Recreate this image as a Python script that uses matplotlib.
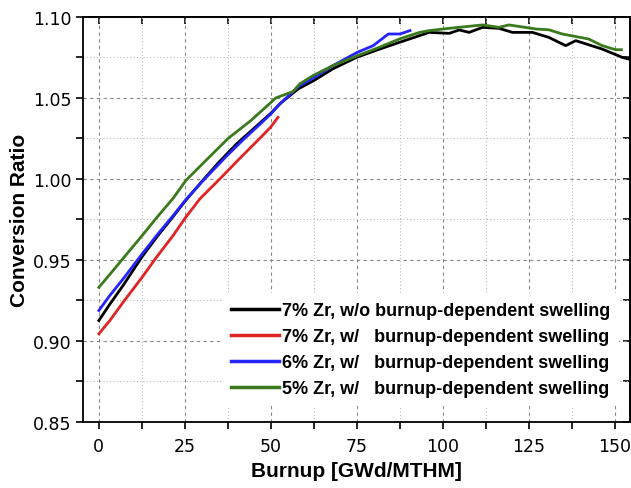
import matplotlib
matplotlib.use("Agg")
import matplotlib.pyplot as plt
from matplotlib.ticker import MultipleLocator

# ---- data ----
x_black = [0, 3, 7, 12.5, 17, 21.5, 25, 30, 35, 40, 45, 50, 53, 58, 62.5, 68, 75, 81.7, 87.5,
           93.3, 96.1, 101.9, 104.8, 107.7, 111.6, 116.4, 120.3, 126.1, 130.9, 135.8, 138.7,
           146.4, 152.2, 155]
y_black = [0.9125, 0.922, 0.934, 0.9517, 0.9645, 0.9764, 0.986, 0.9985, 1.0105, 1.0215, 1.031,
           1.0405, 1.047, 1.0556, 1.0607, 1.0679, 1.0751, 1.0802, 1.0844, 1.0885, 1.0905, 1.0899,
           1.092, 1.0905, 1.0936, 1.093, 1.0905, 1.0905, 1.0874, 1.0823, 1.0854, 1.0802, 1.0751,
           1.0735]

x_red = [0, 3.2, 7.1, 12.6, 16.8, 21.6, 25, 29.4, 35.2, 40, 44.2, 46.8, 50, 52.1]
y_red = [0.9043, 0.9125, 0.9239, 0.9393, 0.9517, 0.965, 0.9755, 0.9877, 1.0, 1.0105, 1.0195,
         1.025, 1.032, 1.038]

x_blue = [0, 3.2, 7.1, 12.6, 16.8, 21.6, 25.5, 30.8, 37.3, 42.4, 47, 50.2, 52.6, 58.4, 62.3,
          68.1, 75.2, 79.8, 84.2, 87.6, 90.5]
y_blue = [0.9187, 0.928, 0.9383, 0.9537, 0.965, 0.9773, 0.9877, 1.0, 1.0144, 1.025, 1.034,
          1.0405, 1.0463, 1.0576, 1.0623, 1.07, 1.0782, 1.0823, 1.0895, 1.0895, 1.0916]

x_green = [0, 3.2, 7.1, 12.6, 16.6, 21.6, 25.3, 30, 37.6, 44.2, 51.5, 56.5, 58.4, 62.3, 68.1,
           75.2, 81.6, 87.4, 93.3, 96.1, 101.9, 111.6, 116.4, 119.3, 127.1, 130.9, 134.8,
           142.5, 146.4, 150.3, 152.0]
y_green = [0.933, 0.941, 0.951, 0.965, 0.9755, 0.988, 0.999, 1.009, 1.025, 1.036, 1.05, 1.054,
           1.0586, 1.0638, 1.07, 1.0761, 1.0813, 1.0864, 1.0905, 1.0916, 1.093, 1.0951, 1.0936,
           1.0951, 1.0926, 1.0921, 1.0895, 1.0864, 1.0823, 1.0798, 1.0798]

labels = ["7% Zr, w/o burnup-dependent swelling",
          "7% Zr, w/   burnup-dependent swelling",
          "6% Zr, w/   burnup-dependent swelling",
          "5% Zr, w/   burnup-dependent swelling"]
colors = ["#000000", "#e02424", "#2424ff", "#3a7a1c"]

x_ticks = [0, 25, 50, 75, 100, 125, 150]
y_ticks = [0.85, 0.90, 0.95, 1.00, 1.05, 1.10]

# ---- figure ----
fig = plt.figure(figsize=(6.31, 4.89), dpi=100)
ax = fig.add_axes([82.7/631, (489-422.7)/489, (630-82.7)/631, (422.7-18)/489])

series = [(x_black, y_black), (x_red, y_red), (x_blue, y_blue), (x_green, y_green)]
for (xs, ys), c, lab in zip(series, colors, labels):
    ax.plot(xs, ys, color=c, lw=2.0, label=lab, zorder=3)

ax.set_xlim(-4.7, 154.5)
ax.set_ylim(0.85, 1.10)
ax.set_xticks(x_ticks)
ax.set_yticks(y_ticks)
ax.xaxis.set_minor_locator(MultipleLocator(12.5))
ax.yaxis.set_minor_locator(MultipleLocator(0.025))
ax.set_yticklabels([f"{v:.2f}" for v in y_ticks])

tickfont = ['Liberation Sans Narrow', 'DejaVu Sans']
for lbl in ax.get_xticklabels() + ax.get_yticklabels():
    lbl.set_fontfamily(tickfont)
    lbl.set_fontsize(12.5)

ax.tick_params(which='both', length=5, width=1.2)
ax.tick_params(axis='x', which='both', direction='out', pad=6)
ax.tick_params(axis='y', which='both', direction='out', pad=3)
# top/right inward ticks
secx = ax.secondary_xaxis('top')
secx.set_xticks(x_ticks)
secx.xaxis.set_minor_locator(MultipleLocator(12.5))
secx.tick_params(which='both', direction='in', length=5, width=1.2, labeltop=False)
secy = ax.secondary_yaxis('right')
secy.set_yticks(y_ticks)
secy.yaxis.set_minor_locator(MultipleLocator(0.025))
secy.tick_params(which='both', direction='in', length=5, width=1.2, labelright=False)
ax.tick_params(top=False, right=False, which='both')
for s in ax.spines.values():
    s.set_linewidth(1.3)
for a in (secx, secy):
    for s in a.spines.values():
        s.set_linewidth(1.3)

ax.grid(which='major', color='#888888', linestyle=(0, (3, 3)), lw=0.8)
ax.grid(which='minor', color='#bbbbbb', linestyle=(0, (1, 2)), lw=0.8)
ax.set_axisbelow(True)

lab_font = {'family': ['Liberation Sans', 'DejaVu Sans'], 'weight': 'bold', 'size': 15}
ax.set_xlabel("Burnup [GWd/MTHM]", fontdict=lab_font)
ax.set_ylabel("Conversion Ratio", fontdict=lab_font)
ax.xaxis.set_label_coords(0.5, (422.7-462)/404.7)
ax.yaxis.set_label_coords((29-82.7)/547.3, 0.5)

leg = ax.legend(loc='lower left', bbox_to_anchor=(0.254, 0.038), borderaxespad=0,
                frameon=True, fancybox=False, edgecolor='none', facecolor='white',
                framealpha=1, handlelength=2.7, handletextpad=0.15, labelspacing=0.5,
                borderpad=0.5,
                prop={'family': ['Liberation Sans', 'DejaVu Sans'], 'weight': 'bold',
                      'size': 13})
leg.set_zorder(5)
for h in leg.get_lines():
    h.set_linewidth(2.5)

fig.savefig("out.png", dpi=100)
